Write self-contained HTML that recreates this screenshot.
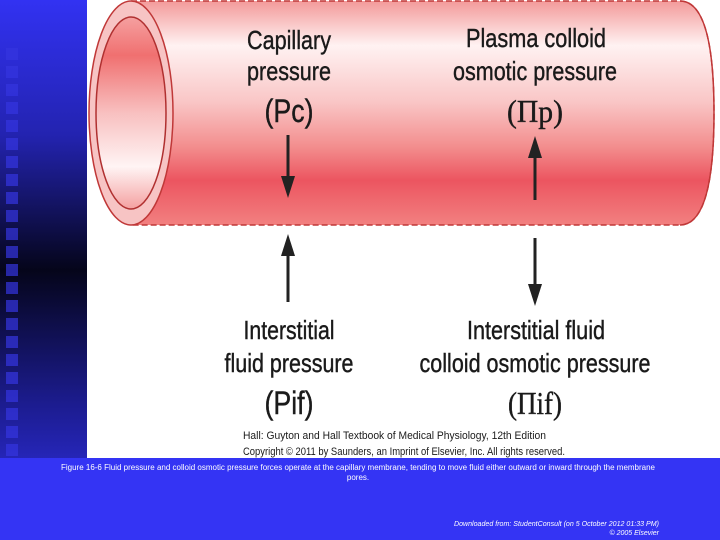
<!DOCTYPE html>
<html><head><meta charset="utf-8"><style>
html,body{margin:0;padding:0;width:720px;height:540px;overflow:hidden;background:#3434f4;}
</style></head><body>
<svg width="720" height="540" viewBox="0 0 720 540" xmlns="http://www.w3.org/2000/svg" font-family="Liberation Sans, sans-serif">
<defs>
<linearGradient id="side" x1="0" y1="0" x2="0" y2="1">
<stop offset="0" stop-color="#3232f2"/>
<stop offset="0.25" stop-color="#2323b0"/>
<stop offset="0.5" stop-color="#05051a"/>
<stop offset="0.75" stop-color="#1c1c90"/>
<stop offset="1" stop-color="#3434f4"/>
</linearGradient>
<linearGradient id="tube" x1="0" y1="0" x2="0" y2="1">
<stop offset="0" stop-color="#f39a9a"/>
<stop offset="0.2" stop-color="#fff2f2"/>
<stop offset="0.45" stop-color="#f9c6c6"/>
<stop offset="0.65" stop-color="#f38e8e"/>
<stop offset="0.8" stop-color="#ec5560"/>
<stop offset="1" stop-color="#f28080"/>
</linearGradient>
<linearGradient id="inner" x1="0" y1="0" x2="0" y2="1">
<stop offset="0" stop-color="#f5a0a0"/>
<stop offset="0.2" stop-color="#f07070"/>
<stop offset="0.5" stop-color="#f8c0c0"/>
<stop offset="0.78" stop-color="#fff4f4"/>
<stop offset="1" stop-color="#f4a0a0"/>
</linearGradient>
</defs>
<rect x="0" y="0" width="87" height="540" fill="url(#side)"/>
<rect x="0" y="458" width="720" height="82" fill="#3434f4"/>
<g fill="#3535e0" opacity="0.7">
<rect x="6" y="48" width="12" height="12"/><rect x="6" y="66" width="12" height="12"/><rect x="6" y="84" width="12" height="12"/><rect x="6" y="102" width="12" height="12"/><rect x="6" y="120" width="12" height="12"/><rect x="6" y="138" width="12" height="12"/><rect x="6" y="156" width="12" height="12"/><rect x="6" y="174" width="12" height="12"/><rect x="6" y="192" width="12" height="12"/><rect x="6" y="210" width="12" height="12"/><rect x="6" y="228" width="12" height="12"/><rect x="6" y="246" width="12" height="12"/><rect x="6" y="264" width="12" height="12"/><rect x="6" y="282" width="12" height="12"/><rect x="6" y="300" width="12" height="12"/><rect x="6" y="318" width="12" height="12"/><rect x="6" y="336" width="12" height="12"/><rect x="6" y="354" width="12" height="12"/><rect x="6" y="372" width="12" height="12"/><rect x="6" y="390" width="12" height="12"/><rect x="6" y="408" width="12" height="12"/><rect x="6" y="426" width="12" height="12"/><rect x="6" y="444" width="12" height="12"/>
</g>
<rect x="87" y="0" width="633" height="458" fill="#fff"/>
<path d="M131,1 L680,1 Q714,1 714,113 Q714,225 680,225 L131,225 Z" fill="url(#tube)" stroke="#c03838" stroke-width="1.5" stroke-dasharray="6,3"/>
<path d="M680,1 Q714,1 714,113 Q714,225 680,225" fill="none" stroke="#c03838" stroke-width="1.5"/>
<ellipse cx="131" cy="113" rx="42" ry="112" fill="#f7c4c4" stroke="#c03838" stroke-width="1.5"/>
<ellipse cx="131" cy="113" rx="35" ry="96" fill="url(#inner)" stroke="#b03030" stroke-width="1.5"/>
<g fill="#1a1a1a" stroke="#1a1a1a" stroke-width="0.4">
<text x="289" y="49" font-size="26" text-anchor="middle" textLength="84" lengthAdjust="spacingAndGlyphs">Capillary</text>
<text x="289" y="80" font-size="26" text-anchor="middle" textLength="84" lengthAdjust="spacingAndGlyphs">pressure</text>
<text x="289" y="122" font-size="32" text-anchor="middle" textLength="49" lengthAdjust="spacingAndGlyphs">(Pc)</text>
<text x="536" y="47" font-size="26" text-anchor="middle" textLength="140" lengthAdjust="spacingAndGlyphs">Plasma colloid</text>
<text x="535" y="80" font-size="26" text-anchor="middle" textLength="164" lengthAdjust="spacingAndGlyphs">osmotic pressure</text>
<text x="535" y="122" font-size="32" text-anchor="middle" textLength="56" lengthAdjust="spacingAndGlyphs" font-family="Liberation Serif, serif">(Πp)</text>
<text x="289" y="339" font-size="26" text-anchor="middle" textLength="91" lengthAdjust="spacingAndGlyphs">Interstitial</text>
<text x="289" y="372" font-size="26" text-anchor="middle" textLength="129" lengthAdjust="spacingAndGlyphs">fluid pressure</text>
<text x="289" y="414" font-size="32" text-anchor="middle" textLength="49" lengthAdjust="spacingAndGlyphs">(Pif)</text>
<text x="536" y="339" font-size="26" text-anchor="middle" textLength="138" lengthAdjust="spacingAndGlyphs">Interstitial fluid</text>
<text x="535" y="372" font-size="26" text-anchor="middle" textLength="231" lengthAdjust="spacingAndGlyphs">colloid osmotic pressure</text>
<text x="535" y="414" font-size="32" text-anchor="middle" textLength="54" lengthAdjust="spacingAndGlyphs" font-family="Liberation Serif, serif">(Πif)</text>
</g>
<g fill="#1a1a1a">
<text x="243" y="439" font-size="11" textLength="303" lengthAdjust="spacingAndGlyphs">Hall: Guyton and Hall Textbook of Medical Physiology, 12th Edition</text>
<text x="243" y="455" font-size="11" textLength="322" lengthAdjust="spacingAndGlyphs">Copyright © 2011 by Saunders, an Imprint of Elsevier, Inc. All rights reserved.</text>
</g>
<g stroke="#222" stroke-width="3">
<line x1="288" y1="135" x2="288" y2="180"/>
<line x1="535" y1="200" x2="535" y2="155"/>
<line x1="288" y1="302" x2="288" y2="250"/>
<line x1="535" y1="238" x2="535" y2="288"/>
</g>
<g fill="#222">
<polygon points="281,176 295,176 288,198 "/>
<polygon points="528,158 542,158 535,136"/>
<polygon points="281,256 295,256 288,234"/>
<polygon points="528,284 542,284 535,306"/>
</g>
<g fill="#fff">
<text x="358" y="470" font-size="8" text-anchor="middle" textLength="594" lengthAdjust="spacingAndGlyphs">Figure 16-6 Fluid pressure and colloid osmotic pressure forces operate at the capillary membrane, tending to move fluid either outward or inward through the membrane</text>
<text x="358" y="480" font-size="8" text-anchor="middle">pores.</text>
<text x="659" y="526" font-size="7" font-style="italic" text-anchor="end" textLength="205" lengthAdjust="spacingAndGlyphs">Downloaded from: StudentConsult (on 5 October 2012 01:33 PM)</text>
<text x="659" y="535" font-size="7" font-style="italic" text-anchor="end">© 2005 Elsevier</text>
</g>
</svg>
</body></html>
